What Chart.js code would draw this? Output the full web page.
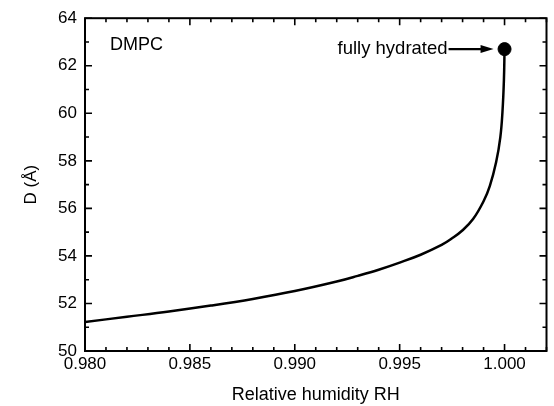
<!DOCTYPE html>
<html>
<head>
<meta charset="utf-8">
<script src="https://cdn.jsdelivr.net/npm/chart.js@4"></script>
<style>
html,body{margin:0;padding:0;background:#fff;}
#wrap{width:554px;height:406px;}
</style>
</head>
<body>
<div id="wrap"><canvas id="c" width="554" height="406"></canvas></div>
<script>
// ---- data ----
const rhValues = [0.980, 0.982, 0.984, 0.986, 0.988, 0.990, 0.992, 0.993, 0.994, 0.995, 0.996, 0.997, 0.9975, 0.998, 0.9985, 0.999, 0.9993, 0.9996, 0.9998, 0.9999, 0.99997, 1.000];
const dValues  = [51.22, 51.44, 51.66, 51.91, 52.19, 52.52, 52.92, 53.16, 53.42, 53.72, 54.05, 54.46, 54.74, 55.08, 55.55, 56.3, 56.95, 57.95, 59.0, 60.05, 61.4, 62.7];
const hydratedPoint = [{x: 1.000, y: 62.7}];
const xTickLabels = [0.980, 0.985, 0.990, 0.995, 1.000];
const yTickLabels = [50, 52, 54, 56, 58, 60, 62, 64];
const xMinorStep = 0.001;
const yMinorStep = 1;
const sampleLabel = 'DMPC';
const annotationText = 'fully hydrated';

const curve = rhValues.map((x, i) => ({x: x, y: dValues[i]}));
const FONT = "'Liberation Sans', Arial, Helvetica, sans-serif";

const framePlugin = {
  id: 'frame',
  afterDatasetsDraw(chart) {
    const {ctx, chartArea: a, scales: {x, y}} = chart;
    ctx.save();
    ctx.strokeStyle = '#000';
    ctx.lineWidth = 2;
    ctx.strokeRect(a.left, a.top, a.right - a.left, a.bottom - a.top);
    // ticks (inward) on all four sides
    ctx.lineWidth = 1.6;
    ctx.beginPath();
    const xmax = x.max;
    for (let k = 0; ; k++) {
      const v = xTickLabels[0] + k * xMinorStep;
      if (v > xmax + 1e-9) break;
      const major = xTickLabels.some(t => Math.abs(t - v) < 1e-7);
      const len = major ? 7 : 4;
      const px = x.getPixelForValue(v);
      ctx.moveTo(px, a.bottom); ctx.lineTo(px, a.bottom - len);
      ctx.moveTo(px, a.top); ctx.lineTo(px, a.top + len);
    }
    for (let v = y.min; v <= y.max + 1e-9; v += yMinorStep) {
      const major = yTickLabels.includes(v);
      const len = major ? 7 : 4;
      const py = y.getPixelForValue(v);
      ctx.moveTo(a.left, py); ctx.lineTo(a.left + len, py);
      ctx.moveTo(a.right, py); ctx.lineTo(a.right - len, py);
    }
    ctx.stroke();

    // sample label
    ctx.fillStyle = '#000';
    ctx.font = '18px ' + FONT;
    ctx.textAlign = 'left';
    ctx.textBaseline = 'middle';
    ctx.fillText(sampleLabel, a.left + 25, a.top + 27);

    // annotation arrow
    const p = hydratedPoint[0];
    const px = x.getPixelForValue(p.x), py = y.getPixelForValue(p.y);
    const tip = px - 11, tail = px - 56;
    ctx.lineWidth = 2.2;
    ctx.beginPath();
    ctx.moveTo(tail, py); ctx.lineTo(tip - 8, py);
    ctx.stroke();
    ctx.beginPath();
    ctx.moveTo(tip, py); ctx.lineTo(tip - 13, py - 4); ctx.lineTo(tip - 13, py + 4); ctx.closePath();
    ctx.fill();
    ctx.font = '18.5px ' + FONT;
    ctx.textAlign = 'right';
    ctx.fillText(annotationText, tail - 1, py);
    ctx.restore();
  }
};

new Chart(document.getElementById('c'), {
  type: 'scatter',
  data: {
    datasets: [
      {
        type: 'line',
        data: curve,
        borderColor: '#000',
        borderWidth: 2.5,
        pointRadius: 0,
        fill: false,
        tension: 0.4,
        order: 2
      },
      {
        data: hydratedPoint,
        backgroundColor: '#000',
        borderColor: '#000',
        pointRadius: 6.5,
        order: 1
      }
    ]
  },
  options: {
    responsive: false,
    animation: false,
    events: [],
    layout: {padding: {top: 16, right: 4, left: 0, bottom: 0}},
    plugins: {legend: {display: false}, tooltip: {enabled: false}},
    scales: {
      x: {
        type: 'linear',
        min: 0.980,
        max: 1.002,
        grid: {display: false, drawTicks: false},
        border: {display: false},
        afterBuildTicks: s => { s.ticks = xTickLabels.map(v => ({value: v})); },
        afterFit: s => { s.height = 55; },
        ticks: {
          color: '#000',
          padding: 3,
          maxRotation: 0,
          font: {family: FONT, size: 17},
          callback: v => Number(v).toFixed(3)
        },
        title: {
          display: true,
          text: 'Relative humidity RH',
          color: '#000',
          font: {family: FONT, size: 18},
          padding: {top: 0, bottom: 0}
        }
      },
      y: {
        type: 'linear',
        min: 50,
        max: 64,
        grid: {display: false, drawTicks: false},
        border: {display: false},
        afterBuildTicks: s => { s.ticks = yTickLabels.map(v => ({value: v})); },
        afterFit: s => { s.width = 85; },
        ticks: {
          color: '#000',
          padding: 8,
          font: {family: FONT, size: 17},
          callback: v => String(v)
        },
        title: {
          display: true,
          text: 'D (Å)',
          color: '#000',
          font: {family: FONT, size: 17},
          padding: {top: 21, bottom: 0}
        }
      }
    }
  },
  plugins: [framePlugin]
});
</script>
</body>
</html>
